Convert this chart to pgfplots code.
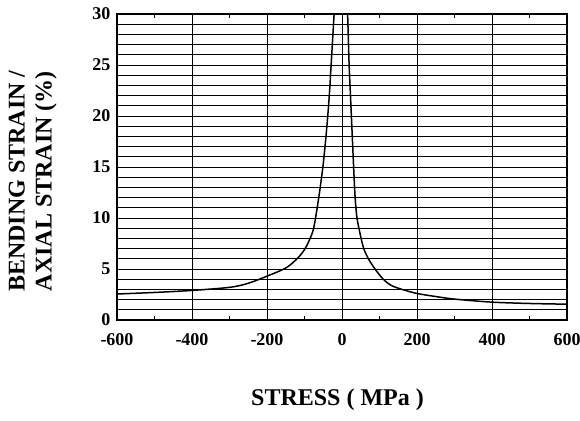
\documentclass[border=0pt]{standalone}
\usepackage{pgfplots}
\pgfplotsset{compat=1.18}
\usepackage{fontspec}
\setmainfont{Liberation Serif}
\begin{document}
\begin{tikzpicture}
\path[use as bounding box] (-117pt,-100pt) rectangle (463pt,320pt);
\begin{axis}[
  at={(0pt,0pt)}, anchor=south west,
  scale only axis, width=450pt, height=306pt,
  xmin=-600, xmax=600, ymin=0, ymax=30,
  xtick={-600,-400,...,600}, ytick={0,5,...,30},
  minor xtick={-500,-300,...,500},
  minor ytick={0,1,...,30},
  grid=both,
  major grid style={black, line width=1pt},
  minor grid style={black, line width=1pt},
  minor x grid style={draw=none},
  axis line style={black, line width=1.2pt},
  tick style={black, line width=0.8pt},
  major tick length=0pt, minor tick length=4pt,
  tick align=inside,
  /pgf/number format/assume math mode=true,
  ticklabel style={font=\fontsize{18}{18}\selectfont\bfseries},
  xticklabel style={yshift=-10pt},
  yticklabel style={xshift=-3pt},
  xlabel={STRESS ( MPa )},
  xlabel style={font=\fontsize{24}{24}\selectfont\bfseries, at={(axis description cs:0.49,-0.261)}, anchor=center},
  ylabel={BENDING STRAIN /\\AXIAL STRAIN (\%)},
  ylabel style={font=\fontsize{24}{27}\selectfont\bfseries, align=center, at={(axis description cs:-0.187,0.454)}, anchor=center},
]
\addplot[black, line width=1.5pt, smooth] coordinates {
(-600,2.55) (-500,2.7) (-400,2.9) (-300,3.2) (-250,3.6) (-200,4.3) (-150,5.1)
(-120,6.0) (-100,6.9) (-85,8.0) (-75,9.1) (-62,12) (-51,15) (-44,17.5) (-38,20) (-33,22.5) (-29,25) (-25,27.5) (-21,30)
};
\addplot[black, line width=1.5pt, smooth] coordinates {
(15,30) (17,27.5) (19,25) (22,22.5) (25,20) (28,17.5) (31,15) (35,12) (40,10) (48,8.5) (58,7.0) (72,5.9) (90,4.9) (110,4.0) (131,3.4) (160,3.0) (200,2.6) (250,2.3) (300,2.05) (400,1.75) (500,1.62) (600,1.55)
};
\end{axis}
\end{tikzpicture}
\end{document}
